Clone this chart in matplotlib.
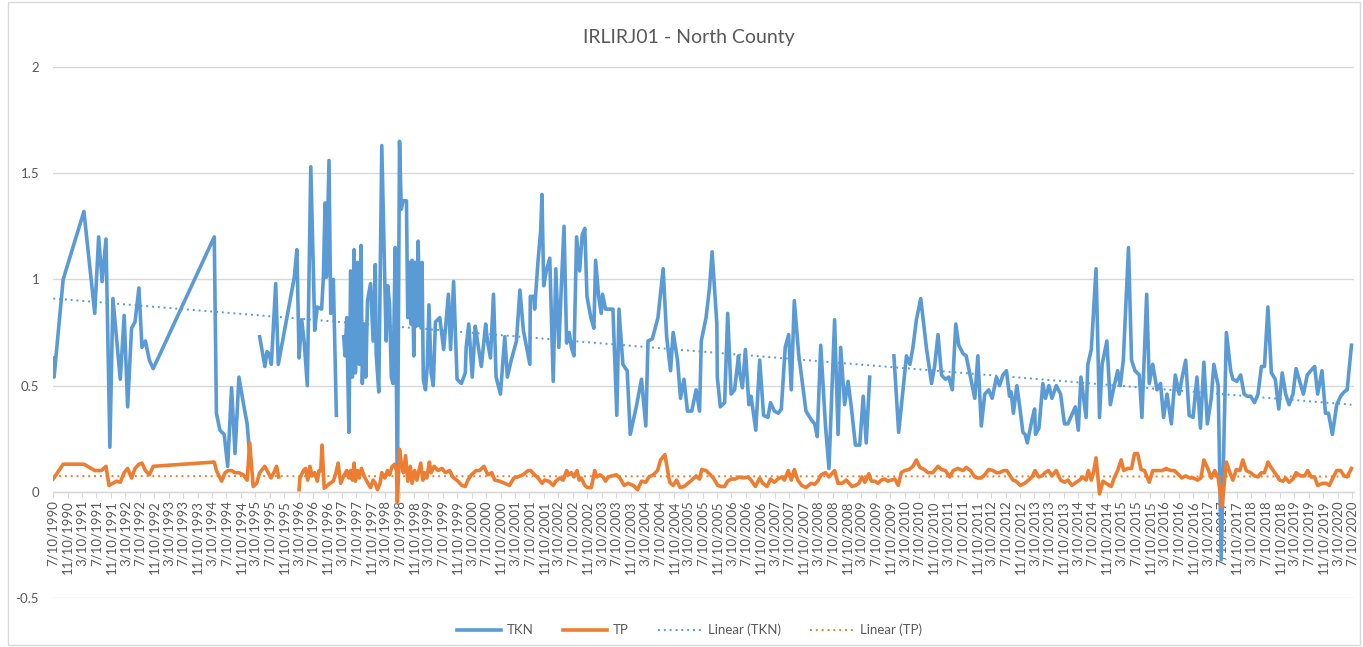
import numpy as np
import matplotlib
matplotlib.use('Agg')
import matplotlib.pyplot as plt
from matplotlib.patches import Rectangle
from datetime import datetime

# sample dates as decimal years (nan = gap in line)
tkn_years = [
    1990.52, 1990.54, 1990.75, 1991.23, 1991.48, 1991.57, 1991.65, 1991.74, 1991.83, 1991.90,
    1992.07, 1992.16, 1992.24, 1992.33, 1992.41, 1992.50, 1992.57, 1992.65, 1992.74, 1992.83,
    1994.24, 1994.29, 1994.37, 1994.47, 1994.55, 1994.64, 1994.72, 1994.81, 1994.91, 1995.00,
    1995.06, 1995.18, 1995.29, 1995.41, 1995.46, 1995.51, 1995.56, 1995.66, 1995.72, 1996.09,
    1996.15, 1996.20, 1996.26, 1996.32, 1996.39, 1996.47, 1996.53, 1996.56, 1996.62, 1996.72,
    1996.76, 1996.80, 1996.83, 1996.89, 1996.93, 1996.99, 1997.06, 1997.15, 1997.23, 1997.26,
    1997.30, 1997.35, 1997.39, 1997.43, 1997.47, 1997.50, 1997.55, 1997.59, 1997.63, 1997.66,
    1997.70, 1997.74, 1997.78, 1997.85, 1997.91, 1997.96, 1997.98, 1998.04, 1998.11, 1998.18,
    1998.21, 1998.25, 1998.29, 1998.33, 1998.37, 1998.42, 1998.47, 1998.52, 1998.56, 1998.60,
    1998.68, 1998.71, 1998.75, 1998.78, 1998.81, 1998.85, 1998.88, 1998.91, 1998.95, 1998.99,
    1999.04, 1999.07, 1999.12, 1999.16, 1999.20, 1999.25, 1999.30, 1999.35, 1999.45, 1999.54,
    1999.65, 1999.70, 1999.77, 1999.85, 1999.95, 2000.04, 2000.06, 2000.12, 2000.20, 2000.27,
    2000.32, 2000.41, 2000.51, 2000.55, 2000.62, 2000.69, 2000.75, 2000.85, 2000.95, 2001.01,
    2001.10, 2001.22, 2001.30, 2001.38, 2001.53, 2001.54, 2001.62, 2001.64, 2001.72, 2001.78,
    2001.81, 2001.85, 2001.91, 2001.99, 2002.07, 2002.13, 2002.20, 2002.26, 2002.32, 2002.38,
    2002.44, 2002.49, 2002.55, 2002.61, 2002.68, 2002.74, 2002.80, 2002.85, 2002.94, 2003.01,
    2003.05, 2003.12, 2003.18, 2003.21, 2003.28, 2003.36, 2003.45, 2003.54, 2003.59, 2003.68,
    2003.78, 2003.85, 2003.99, 2004.11, 2004.21, 2004.26, 2004.36, 2004.49, 2004.61, 2004.69,
    2004.78, 2004.84, 2004.94, 2005.01, 2005.09, 2005.17, 2005.27, 2005.37, 2005.45, 2005.49,
    2005.60, 2005.68, 2005.74, 2005.85, 2005.86, 2005.93, 2006.03, 2006.10, 2006.18, 2006.26,
    2006.35, 2006.38, 2006.44, 2006.51, 2006.59, 2006.64, 2006.75, 2006.84, 2006.93, 2007.03,
    2007.09, 2007.18, 2007.27, 2007.34, 2007.43, 2007.51, 2007.57, 2007.64, 2007.74, 2007.91,
    2008.03, 2008.11, 2008.17, 2008.25, 2008.36, 2008.44, 2008.57, 2008.65, 2008.71, 2008.80,
    2008.88, 2008.96, 2009.05, 2009.15, 2009.23, 2009.30, 2009.38, 2009.60, 2009.94, 2010.05,
    2010.23, 2010.31, 2010.38, 2010.46, 2010.56, 2010.69, 2010.81, 2010.88, 2010.96, 2011.04,
    2011.13, 2011.21, 2011.29, 2011.37, 2011.44, 2011.54, 2011.61, 2011.71, 2011.81, 2011.88,
    2011.96, 2012.04, 2012.13, 2012.21, 2012.31, 2012.38, 2012.46, 2012.54, 2012.61, 2012.65,
    2012.70, 2012.78, 2012.84, 2012.92, 2012.97, 2013.02, 2013.07, 2013.13, 2013.19, 2013.21,
    2013.29, 2013.38, 2013.44, 2013.52, 2013.59, 2013.69, 2013.79, 2013.88, 2013.96, 2014.13,
    2014.20, 2014.26, 2014.38, 2014.42, 2014.50, 2014.61, 2014.69, 2014.75, 2014.86, 2014.94,
    2015.03, 2015.11, 2015.17, 2015.24, 2015.36, 2015.43, 2015.51, 2015.61, 2015.67, 2015.78,
    2015.84, 2015.92, 2016.02, 2016.10, 2016.17, 2016.25, 2016.35, 2016.44, 2016.53, 2016.59,
    2016.68, 2016.76, 2016.85, 2016.94, 2017.02, 2017.10, 2017.18, 2017.27, 2017.33, 2017.43,
    2017.50, 2017.62, 2017.72, 2017.77, 2017.86, 2017.95, 2018.03, 2018.10, 2018.18, 2018.27,
    2018.35, 2018.43, 2018.50, 2018.58, 2018.66, 2018.75, 2018.83, 2018.91, 2018.99, 2019.07,
    2019.16, 2019.23, 2019.33, 2019.40, 2019.49, 2019.57, 2019.66, 2019.73, 2019.83, 2019.91,
    2019.98, 2020.07, 2020.17, 2020.26, 2020.34, 2020.41, 2020.51,
]
tkn = [
    0.63, 0.54, 1.00, 1.32, 0.84, 1.20, 0.99, 1.19, 0.21, 0.91,
    0.53, 0.83, 0.40, 0.77, 0.80, 0.96, 0.68, 0.71, 0.62, 0.58,
    1.20, 0.37, 0.29, 0.27, 0.12, 0.49, 0.18, 0.54, 0.42, 0.32,
    0.17, np.nan, 0.73, 0.59, 0.66, 0.65, 0.60, 0.98, 0.60, 1.01,
    1.14, 0.63, 0.81, 0.70, 0.50, 1.53, 1.04, 0.76, 0.87, 0.86,
    1.01, 1.36, 1.01, 1.56, 0.84, 1.00, 0.36, np.nan, 0.73, 0.64,
    0.82, 0.28, 1.04, 0.54, 1.14, 0.56, 1.08, 0.60, 1.16, 0.51,
    0.79, 0.54, 0.90, 0.98, 0.71, 1.07, 0.65, 0.47, 1.63, 0.98,
    0.71, 0.97, 0.88, 0.54, 0.51, 1.15, -0.03, 1.65, 1.33, 1.37,
    1.37, 0.82, 1.08, 0.79, 1.09, 0.64, 1.08, 0.78, 1.18, 0.78,
    1.08, 0.53, 0.48, 0.59, 0.88, 0.56, 0.50, 0.80, 0.82, 0.67,
    0.93, 0.67, 0.99, 0.53, 0.51, 0.56, 0.68, 0.79, 0.54, 0.78,
    0.71, 0.59, 0.79, 0.71, 0.63, 0.93, 0.54, 0.46, 0.73, 0.54,
    0.62, 0.71, 0.95, 0.76, 0.60, 0.92, 0.92, 0.86, 1.09, 1.23,
    1.40, 0.97, 1.04, 1.10, 0.52, 1.05, 0.68, 0.98, 1.25, 0.70,
    0.75, 0.68, 0.64, 1.20, 1.04, 1.21, 1.24, 0.92, 0.82, 0.77,
    1.09, 0.92, 0.84, 0.93, 0.86, 0.86, 0.86, 0.36, 0.86, 0.60,
    0.57, 0.27, 0.40, 0.53, 0.31, 0.71, 0.72, 0.82, 1.05, 0.73,
    0.57, 0.75, 0.62, 0.44, 0.53, 0.38, 0.38, 0.48, 0.38, 0.71,
    0.82, 0.96, 1.13, 0.79, 0.54, 0.40, 0.42, 0.84, 0.46, 0.48,
    0.64, 0.56, 0.49, 0.67, 0.41, 0.45, 0.29, 0.62, 0.36, 0.35,
    0.42, 0.38, 0.37, 0.39, 0.68, 0.74, 0.48, 0.90, 0.65, 0.38,
    0.34, 0.32, 0.26, 0.69, 0.31, 0.11, 0.81, 0.27, 0.68, 0.41,
    0.52, 0.39, 0.22, 0.22, 0.45, 0.23, 0.54, np.nan, 0.64, 0.28,
    0.64, 0.60, 0.68, 0.81, 0.91, 0.68, 0.51, 0.59, 0.74, 0.55,
    0.53, 0.54, 0.48, 0.79, 0.69, 0.65, 0.64, 0.54, 0.44, 0.64,
    0.31, 0.46, 0.48, 0.44, 0.54, 0.50, 0.55, 0.57, 0.45, 0.47,
    0.37, 0.50, 0.41, 0.28, 0.27, 0.23, 0.28, 0.34, 0.39, 0.27,
    0.30, 0.51, 0.44, 0.50, 0.44, 0.50, 0.46, 0.32, 0.32, 0.40,
    0.29, 0.54, 0.35, 0.60, 0.67, 1.05, 0.35, 0.60, 0.71, 0.41,
    0.50, 0.57, 0.50, 0.62, 1.15, 0.62, 0.57, 0.55, 0.35, 0.93,
    0.51, 0.60, 0.48, 0.51, 0.35, 0.46, 0.32, 0.55, 0.46, 0.53,
    0.62, 0.36, 0.35, 0.54, 0.30, 0.61, 0.32, 0.44, 0.60, 0.50,
    -0.32, 0.75, 0.57, 0.53, 0.52, 0.55, 0.46, 0.45, 0.45, 0.42,
    0.46, 0.59, 0.59, 0.87, 0.56, 0.53, 0.39, 0.56, 0.46, 0.41,
    0.46, 0.58, 0.51, 0.46, 0.55, 0.57, 0.59, 0.46, 0.57, 0.37,
    0.37, 0.27, 0.41, 0.45, 0.47, 0.48, 0.69,
]

tp_years = [
    1990.52, 1990.75, 1991.23, 1991.48, 1991.63, 1991.74, 1991.81, 1991.90, 1991.98, 1992.07,
    1992.16, 1992.24, 1992.33, 1992.41, 1992.50, 1992.57, 1992.65, 1992.74, 1992.83, 1994.24,
    1994.29, 1994.41, 1994.49, 1994.56, 1994.64, 1994.72, 1994.81, 1994.91, 1995.00, 1995.06,
    1995.14, 1995.22, 1995.29, 1995.41, 1995.46, 1995.55, 1995.63, 1995.68, 1995.73, 1995.95,
    1996.20, 1996.22, 1996.30, 1996.35, 1996.40, 1996.45, 1996.50, 1996.56, 1996.62, 1996.66,
    1996.70, 1996.73, 1996.78, 1996.83, 1996.91, 1996.99, 1997.05, 1997.10, 1997.16, 1997.23,
    1997.30, 1997.35, 1997.39, 1997.43, 1997.47, 1997.50, 1997.55, 1997.59, 1997.64, 1997.71,
    1997.79, 1997.85, 1997.91, 1997.96, 1998.01, 1998.07, 1998.11, 1998.18, 1998.24, 1998.29,
    1998.35, 1998.41, 1998.45, 1998.47, 1998.52, 1998.56, 1998.61, 1998.66, 1998.71, 1998.77,
    1998.81, 1998.87, 1998.92, 1998.97, 1999.01, 1999.06, 1999.10, 1999.15, 1999.21, 1999.25,
    1999.32, 1999.41, 1999.50, 1999.58, 1999.68, 1999.75, 1999.87, 1999.96, 2000.04, 2000.10,
    2000.18, 2000.29, 2000.37, 2000.47, 2000.56, 2000.65, 2000.72, 2000.83, 2000.95, 2001.06,
    2001.16, 2001.25, 2001.37, 2001.49, 2001.55, 2001.64, 2001.72, 2001.81, 2001.87, 2001.97,
    2002.07, 2002.13, 2002.22, 2002.30, 2002.38, 2002.43, 2002.49, 2002.55, 2002.62, 2002.67,
    2002.72, 2002.80, 2002.86, 2002.95, 2003.03, 2003.08, 2003.15, 2003.22, 2003.28, 2003.34,
    2003.43, 2003.53, 2003.61, 2003.71, 2003.80, 2003.92, 2004.02, 2004.11, 2004.21, 2004.28,
    2004.38, 2004.48, 2004.55, 2004.65, 2004.76, 2004.84, 2004.92, 2005.00, 2005.09, 2005.18,
    2005.27, 2005.37, 2005.45, 2005.50, 2005.60, 2005.70, 2005.77, 2005.87, 2005.95, 2006.03,
    2006.10, 2006.18, 2006.27, 2006.37, 2006.47, 2006.57, 2006.64, 2006.74, 2006.84, 2006.91,
    2007.01, 2007.09, 2007.18, 2007.26, 2007.35, 2007.41, 2007.50, 2007.57, 2007.64, 2007.72,
    2007.81, 2007.91, 2008.03, 2008.11, 2008.18, 2008.26, 2008.36, 2008.44, 2008.57, 2008.65,
    2008.74, 2008.84, 2008.97, 2009.05, 2009.13, 2009.20, 2009.27, 2009.36, 2009.42, 2009.50,
    2009.57, 2009.65, 2009.73, 2009.80, 2009.88, 2009.96, 2010.04, 2010.11, 2010.19, 2010.29,
    2010.38, 2010.46, 2010.54, 2010.64, 2010.73, 2010.84, 2010.96, 2011.04, 2011.13, 2011.23,
    2011.31, 2011.42, 2011.54, 2011.61, 2011.71, 2011.81, 2011.88, 2011.96, 2012.04, 2012.13,
    2012.23, 2012.31, 2012.38, 2012.48, 2012.55, 2012.61, 2012.69, 2012.76, 2012.86, 2012.96,
    2013.05, 2013.13, 2013.20, 2013.28, 2013.36, 2013.43, 2013.51, 2013.59, 2013.69, 2013.79,
    2013.88, 2013.96, 2014.05, 2014.15, 2014.23, 2014.30, 2014.38, 2014.43, 2014.50, 2014.55,
    2014.61, 2014.69, 2014.77, 2014.84, 2014.96, 2015.03, 2015.11, 2015.19, 2015.25, 2015.34,
    2015.43, 2015.50, 2015.57, 2015.65, 2015.73, 2015.84, 2015.92, 2016.04, 2016.14, 2016.23,
    2016.27, 2016.35, 2016.42, 2016.52, 2016.59, 2016.68, 2016.77, 2016.86, 2016.95, 2017.03,
    2017.10, 2017.19, 2017.27, 2017.35, 2017.43, 2017.52, 2017.62, 2017.70, 2017.77, 2017.85,
    2017.93, 2018.00, 2018.08, 2018.18, 2018.27, 2018.35, 2018.43, 2018.50, 2018.58, 2018.67,
    2018.77, 2018.85, 2018.93, 2018.99, 2019.07, 2019.16, 2019.23, 2019.33, 2019.43, 2019.50,
    2019.58, 2019.66, 2019.73, 2019.85, 2019.93, 2020.00, 2020.08, 2020.17, 2020.26, 2020.34,
    2020.41, 2020.51,
]
tp = [
    0.06, 0.13, 0.13, 0.10, 0.10, 0.12, 0.03, 0.04, 0.05, 0.045,
    0.09, 0.11, 0.065, 0.11, 0.13, 0.135, 0.10, 0.08, 0.12, 0.14,
    0.10, 0.05, 0.09, 0.10, 0.10, 0.09, 0.09, 0.08, 0.055, 0.23,
    0.025, 0.04, 0.09, 0.12, 0.10, 0.065, 0.095, 0.12, 0.07, np.nan,
    0.01, 0.065, 0.10, 0.11, 0.055, 0.12, 0.075, 0.09, 0.05, 0.10,
    0.10, 0.22, 0.017, 0.025, 0.04, 0.05, 0.09, 0.135, 0.04, 0.075,
    0.10, 0.065, 0.10, 0.055, 0.135, 0.05, 0.10, 0.065, 0.11, 0.07,
    0.04, 0.02, 0.055, 0.04, 0.01, 0.04, 0.09, 0.065, 0.10, 0.08,
    0.12, 0.13, 0.10, -0.05, 0.20, 0.135, 0.09, 0.17, 0.05, 0.12,
    0.04, 0.10, 0.055, 0.10, 0.135, 0.055, 0.09, 0.065, 0.14, 0.09,
    0.12, 0.10, 0.11, 0.09, 0.10, 0.07, 0.05, 0.03, 0.025, 0.055,
    0.08, 0.10, 0.10, 0.12, 0.08, 0.09, 0.055, 0.05, 0.04, 0.03,
    0.065, 0.07, 0.08, 0.10, 0.10, 0.08, 0.065, 0.04, 0.055, 0.05,
    0.03, 0.05, 0.065, 0.055, 0.10, 0.08, 0.09, 0.07, 0.10, 0.055,
    0.065, 0.03, 0.02, 0.02, 0.10, 0.07, 0.08, 0.07, 0.05, 0.07,
    0.075, 0.08, 0.065, 0.03, 0.04, 0.03, 0.01, 0.05, 0.045, 0.07,
    0.08, 0.10, 0.15, 0.175, 0.045, 0.03, 0.055, 0.02, 0.025, 0.04,
    0.055, 0.075, 0.06, 0.105, 0.10, 0.08, 0.065, 0.03, 0.025, 0.025,
    0.05, 0.06, 0.06, 0.07, 0.065, 0.07, 0.055, 0.025, 0.065, 0.04,
    0.025, 0.06, 0.045, 0.06, 0.07, 0.055, 0.10, 0.055, 0.105, 0.055,
    0.03, 0.02, 0.04, 0.035, 0.05, 0.08, 0.09, 0.07, 0.10, 0.04,
    0.04, 0.055, 0.025, 0.03, 0.04, 0.07, 0.045, 0.085, 0.05, 0.05,
    0.04, 0.055, 0.06, 0.05, 0.055, 0.06, 0.03, 0.09, 0.10, 0.105,
    0.12, 0.15, 0.115, 0.105, 0.09, 0.09, 0.12, 0.105, 0.10, 0.07,
    0.10, 0.11, 0.10, 0.115, 0.10, 0.07, 0.065, 0.065, 0.08, 0.105,
    0.10, 0.09, 0.09, 0.10, 0.10, 0.08, 0.055, 0.05, 0.03, 0.04,
    0.055, 0.07, 0.10, 0.07, 0.075, 0.09, 0.10, 0.075, 0.10, 0.055,
    0.045, 0.055, 0.03, 0.045, 0.055, 0.07, 0.055, 0.10, 0.055, 0.09,
    0.16, -0.01, 0.05, 0.04, 0.025, 0.065, 0.10, 0.15, 0.10, 0.11,
    0.11, 0.18, 0.18, 0.105, 0.10, 0.045, 0.10, 0.10, 0.10, 0.11,
    0.105, 0.10, 0.10, 0.08, 0.065, 0.075, 0.065, 0.065, 0.055, 0.065,
    0.15, 0.11, 0.065, 0.10, 0.065, -0.07, 0.14, 0.09, 0.055, 0.105,
    0.10, 0.15, 0.10, 0.09, 0.075, 0.07, 0.09, 0.09, 0.14, 0.11,
    0.08, 0.055, 0.05, 0.065, 0.045, 0.06, 0.09, 0.075, 0.075, 0.10,
    0.07, 0.07, 0.03, 0.04, 0.04, 0.03, 0.065, 0.10, 0.10, 0.075,
    0.07, 0.11,
]

# linear trend lines, start and end values
trend_years = [1990.52, 2020.51]
tkn_trend = [0.91, 0.41]
tp_trend = [0.074, 0.072]

y_ticks = [-0.5, 0, 0.5, 1, 1.5, 2]
y_tick_labels = ['-0.5', '0', '0.5', '1', '1.5', '2']


def year_to_date(y):
    y0 = int(y)
    start = datetime(y0, 1, 1)
    return start + (datetime(y0 + 1, 1, 1) - start) * (y - y0)


# x ticks every four months starting 7/10/1990
tick_dates = []
tick_labels = []
for k in range(91):
    m = 6 + 4 * k
    tick_dates.append(datetime(1990 + m // 12, m % 12 + 1, 10))
    tick_labels.append('%d/10/%d' % (m % 12 + 1, 1990 + m // 12))

plt.rcParams['font.family'] = ['Lato', 'DejaVu Sans']
text_color = '#595959'
grid_color = '#d9d9d9'
blue = '#5b9bd5'
orange = '#ed7d31'

fig = plt.figure(figsize=(13.63, 6.47), dpi=100)
ax = fig.add_axes([53 / 1363, 1 - 598 / 647, 1301 / 1363, 531 / 647])

tkn_dates = [year_to_date(v) for v in tkn_years]
tp_dates = [year_to_date(v) for v in tp_years]
trend_dates = [year_to_date(v) for v in trend_years]

ax.plot(tkn_dates, tkn, color=blue, lw=2.6, label='TKN', zorder=3, solid_joinstyle='round')
ax.plot(tp_dates, tp, color=orange, lw=2.6, label='TP', zorder=4, solid_joinstyle='round')
ax.plot(trend_dates, tkn_trend, color=blue, lw=1.4, ls=(0, (1, 2)), label='Linear (TKN)', zorder=5)
ax.plot(trend_dates, tp_trend, color=orange, lw=1.4, ls=(0, (1, 2)), label='Linear (TP)', zorder=5)

ax.set_ylim(-0.5, 2)
ax.set_xlim(datetime(1990, 7, 8), datetime(2020, 7, 27))
ax.set_yticks(y_ticks)
ax.set_yticklabels(y_tick_labels)
ax.set_xticks(tick_dates)
ax.set_xticklabels(tick_labels)
ax.tick_params(axis='y', length=0, pad=10, labelsize=9.5, labelcolor=text_color)
ax.tick_params(axis='x', length=4, width=0.8, color=grid_color, pad=2,
               labelsize=9.5, labelcolor=text_color, labelrotation=90)
ax.yaxis.grid(True, color=grid_color, lw=1)
ax.set_axisbelow(True)
for s in ['left', 'right', 'top']:
    ax.spines[s].set_visible(False)
ax.spines['bottom'].set_position(('data', 0))
ax.spines['bottom'].set_color(grid_color)
ax.spines['bottom'].set_linewidth(1)

fig.text(0.505, 1 - 37 / 647, 'IRLIRJ01 - North County', ha='center', va='center',
         fontsize=14, color=text_color)

fig.legend(loc='center', bbox_to_anchor=(0.506, 1 - 630 / 647), ncol=4, frameon=False,
           fontsize=9.5, labelcolor=text_color, handlelength=3.3, columnspacing=2.2,
           handletextpad=0.5)

fig.patches.append(Rectangle((8 / 1363, 2 / 647), 1352 / 1363, 643 / 647, transform=fig.transFigure,
                             fill=False, edgecolor=grid_color, lw=1))

plt.savefig('out.png', dpi=100)
